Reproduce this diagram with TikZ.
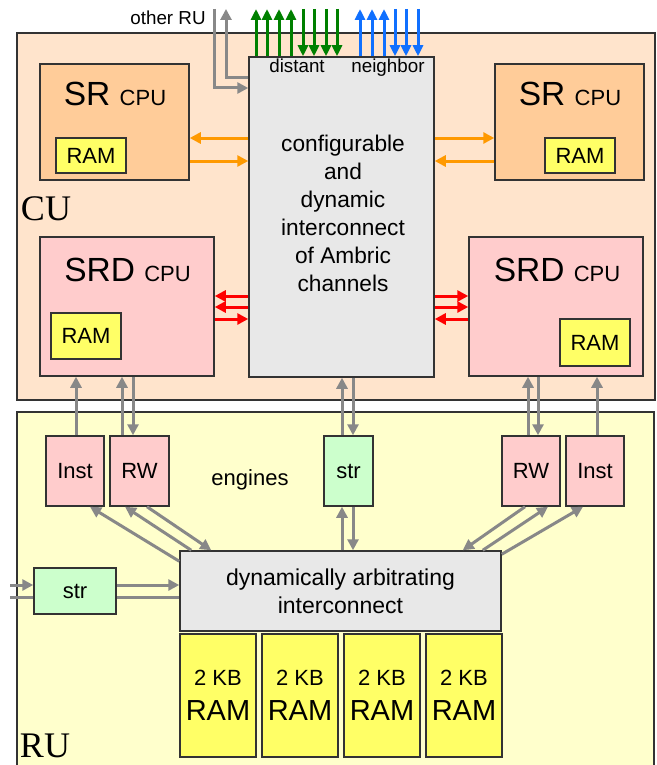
\documentclass[tikz,border=0pt]{standalone}
\usepackage{fontspec}
\setmainfont{Liberation Sans}
\newfontfamily\timesfont{Liberation Serif}
\usepackage{xcolor}
\usetikzlibrary{calc,arrows.meta}
\definecolor{cufill}{RGB}{255,228,204}
\definecolor{srfill}{RGB}{255,204,153}
\definecolor{srdfill}{RGB}{255,204,204}
\definecolor{rufill}{RGB}{255,255,204}
\definecolor{ramfill}{RGB}{255,255,102}
\definecolor{strfill}{RGB}{204,255,204}
\definecolor{icfill}{RGB}{232,232,232}
\definecolor{edgegray}{RGB}{51,51,51}
\definecolor{wiregray}{RGB}{136,136,136}
\definecolor{wireorange}{RGB}{255,153,0}
\definecolor{wirered}{RGB}{255,0,0}
\definecolor{wiregreen}{RGB}{0,128,0}
\definecolor{wireblue}{RGB}{16,112,255}
\newcommand{\setfs}[2]{\fontsize{#1}{#2}\selectfont}

\begin{document}
\begin{tikzpicture}[x=1pt,y=-1pt,
	box/.style={draw=edgegray,line width=1.5pt,inner sep=0pt},
	tip/.style={-{Triangle[length=11pt,width=11pt]}},
	gline/.style={wiregray,line width=3pt},
	garrow/.style={gline,tip},
	oarrow/.style={wireorange,line width=3pt,tip},
	rarrow/.style={wirered,line width=3pt,tip},
	gnarrow/.style={wiregreen,line width=3pt,-{Triangle[length=11pt,width=10pt]}},
	barrow/.style={wireblue,line width=3pt,-{Triangle[length=11pt,width=10pt]}}]
	\useasboundingbox (0,0) rectangle (656,765);
	%units
	\node[box,fill=cufill,minimum width=638pt,minimum height=367pt] (cu) at (336,216.5) {};
	\node[box,fill=rufill,minimum width=637pt,minimum height=358pt] (ru) at (335.5,591) {};
	\node[font=\timesfont\setfs{36}{40}] (cutext) at (46,209) {CU};
	\node[font=\timesfont\setfs{36}{40}] (rutext) at (45,746) {RU};
	
	%SR cpus
	\node[box,fill=srfill,minimum width=149pt,minimum height=116pt] (srl) at (114.5,122) {};
	\node (srltext) at (115,94) {\setfs{33.5}{36}SR \setfs{22}{26}CPU};
	\node[box,fill=ramfill,minimum width=70pt,minimum height=35pt,font=\setfs{22}{26}] (srlram) at (91,155.5) {RAM};
	\node[box,fill=srfill,minimum width=149pt,minimum height=116pt] (srr) at (569.5,122) {};
	\node (srrtext) at (570,94) {\setfs{33.5}{36}SR \setfs{22}{26}CPU};
	\node[box,fill=ramfill,minimum width=70pt,minimum height=35pt,font=\setfs{22}{26}] (srrram) at (580,155.5) {RAM};
	
	%SRD cpus
	\node[box,fill=srdfill,minimum width=174pt,minimum height=139pt] (srdl) at (127,306.5) {};
	\node (srdltext) at (127.5,270) {\setfs{33.5}{36}SRD \setfs{22}{26}CPU};
	\node[box,fill=ramfill,minimum width=70pt,minimum height=46pt,font=\setfs{22}{26}] (srdlram) at (86,336) {RAM};
	\node[box,fill=srdfill,minimum width=174pt,minimum height=139pt] (srdr) at (556,306.5) {};
	\node (srdrtext) at (557,270) {\setfs{33.5}{36}SRD \setfs{22}{26}CPU};
	\node[box,fill=ramfill,minimum width=70pt,minimum height=47pt,font=\setfs{22}{26}] (srdrram) at (595,342.5) {RAM};
	
	%channel interconnect
	\node[box,fill=icfill,minimum width=185pt,minimum height=320pt] (ctr) at (341.5,217) {};
	\node[align=center,font=\setfs{22.7}{28}] (ctrtext) at (343,213) {configurable\\and\\dynamic\\interconnect\\of Ambric\\channels};
	\node[anchor=base,font=\setfs{18.8}{22}] (dist) at (297,73) {distant};
	\node[anchor=base,font=\setfs{18.8}{22}] (neigh) at (388,73) {neighbor};
	\node[anchor=base,font=\setfs{18.8}{22}] (other) at (168,25) {other RU};
	
	%engines
	\node[box,fill=srdfill,minimum width=58pt,minimum height=70pt,font=\setfs{22}{26}] (instl) at (75,471) {Inst};
	\node[box,fill=srdfill,minimum width=59pt,minimum height=70pt,font=\setfs{22}{26}] (rwl) at (139.5,471) {RW};
	\node[box,fill=strfill,minimum width=49pt,minimum height=70pt,font=\setfs{22}{26}] (strc) at (348.5,471) {str};
	\node[box,fill=srdfill,minimum width=58pt,minimum height=70pt,font=\setfs{22}{26}] (rwr) at (531,471) {RW};
	\node[box,fill=srdfill,minimum width=58pt,minimum height=70pt,font=\setfs{22}{26}] (instr) at (595,471) {Inst};
	\node[anchor=base,font=\setfs{22}{26}] (eng) at (250,485) {engines};
	
	%arbitrating interconnect
	\node[box,fill=icfill,minimum width=321pt,minimum height=80pt,align=center,font=\setfs{23}{28}] (dyn) at (340.5,591) {dynamically arbitrating\\interconnect};
	\coordinate (westin) at (10,585);
	\coordinate (westout) at (10,597);
	\draw[gline] (dyn.west |- westout) -- (westout);
	\node[box,fill=strfill,minimum width=82pt,minimum height=46pt,font=\setfs{22}{26}] (strl) at (75,591) {str};
	\foreach \i/\x in {1/218,2/300,3/382,4/464}
		\node[box,fill=ramfill,minimum width=76pt,minimum height=123pt,align=center,font=\setfs{22}{35}] (ram\i) at (\x,695.5) {2 KB\\\setfs{29}{35}RAM};
	
	%top links
	\coordinate (top) at (0,9);
	\coordinate (otherout) at (214,9);
	\coordinate (otherin) at (226,9);
	\draw[garrow] (otherout) |- (ctr.west |- 0,88);
	\draw[garrow] (ctr.west |- 0,78) -| (otherin);
	\foreach \x in {256,267,279,291}
		\draw[gnarrow] (ctr.north -| \x,0) -- (top -| \x,0);
	\foreach \x in {303,314,326,337}
		\draw[gnarrow] (top -| \x,0) -- (ctr.north -| \x,0);
	\foreach \x in {360,372,384}
		\draw[barrow] (ctr.north -| \x,0) -- (top -| \x,0);
	\foreach \x in {395,406,418}
		\draw[barrow] (top -| \x,0) -- (ctr.north -| \x,0);
	
	%cpu links
	\draw[oarrow] (ctr.west |- 0,138) -- (srl.east |- 0,138);
	\draw[oarrow] (srl.east |- 0,161) -- (ctr.west |- 0,161);
	\draw[oarrow] (ctr.east |- 0,138) -- (srr.west |- 0,138);
	\draw[oarrow] (srr.west |- 0,161) -- (ctr.east |- 0,161);
	\foreach \y in {296,307} {
		\draw[rarrow] (ctr.west |- 0,\y) -- (srdl.east |- 0,\y);
		\draw[rarrow] (ctr.east |- 0,\y) -- (srdr.west |- 0,\y);
	}
	\draw[rarrow] (srdl.east |- 0,319) -- (ctr.west |- 0,319);
	\draw[rarrow] (srdr.west |- 0,319) -- (ctr.east |- 0,319);
	
	%engine links
	\draw[garrow] (instl.north -| 76,0) -- (srdl.south -| 76,0);
	\draw[garrow] (rwl.north -| 122,0) -- (srdl.south -| 122,0);
	\draw[garrow] (srdl.south -| 133,0) -- (rwl.north -| 133,0);
	\draw[garrow] (strc.north -| 342,0) -- (ctr.south -| 342,0);
	\draw[garrow] (ctr.south -| 353,0) -- (strc.north -| 353,0);
	\draw[garrow] (dyn.north -| 342,0) -- (strc.south -| 342,0);
	\draw[garrow] (strc.south -| 353,0) -- (dyn.north -| 353,0);
	\draw[garrow] (rwr.north -| 528,0) -- (srdr.south -| 528,0);
	\draw[garrow] (srdr.south -| 538,0) -- (rwr.north -| 538,0);
	\draw[garrow] (instr.north -| 597,0) -- (srdr.south -| 597,0);
	\draw[garrow] ($(dyn.north west)+(0,11)$) -- ($(instl.south)+(15,0)$);
	\draw[garrow] ($(dyn.north west)+(12,0)$) -- ($(rwl.south)+(-14.5,0)$);
	\draw[garrow] ($(rwl.south)+(7.5,0)$) -- ($(dyn.north west)+(32,0)$);
	\draw[garrow] ($(rwr.south)+(-6,0)$) -- ($(dyn.north east)+(-39,0)$);
	\draw[garrow] ($(dyn.north east)+(-19,0)$) -- ($(rwr.south)+(17,0)$);
	\draw[garrow] ($(dyn.north east)+(0,4)$) -- ($(instr.south)+(-12,0)$);
	\draw[garrow] (westin) -- (strl.west |- westin);
	\draw[garrow] (strl.east |- westin) -- (dyn.west |- westin);
\end{tikzpicture}
\end{document}
